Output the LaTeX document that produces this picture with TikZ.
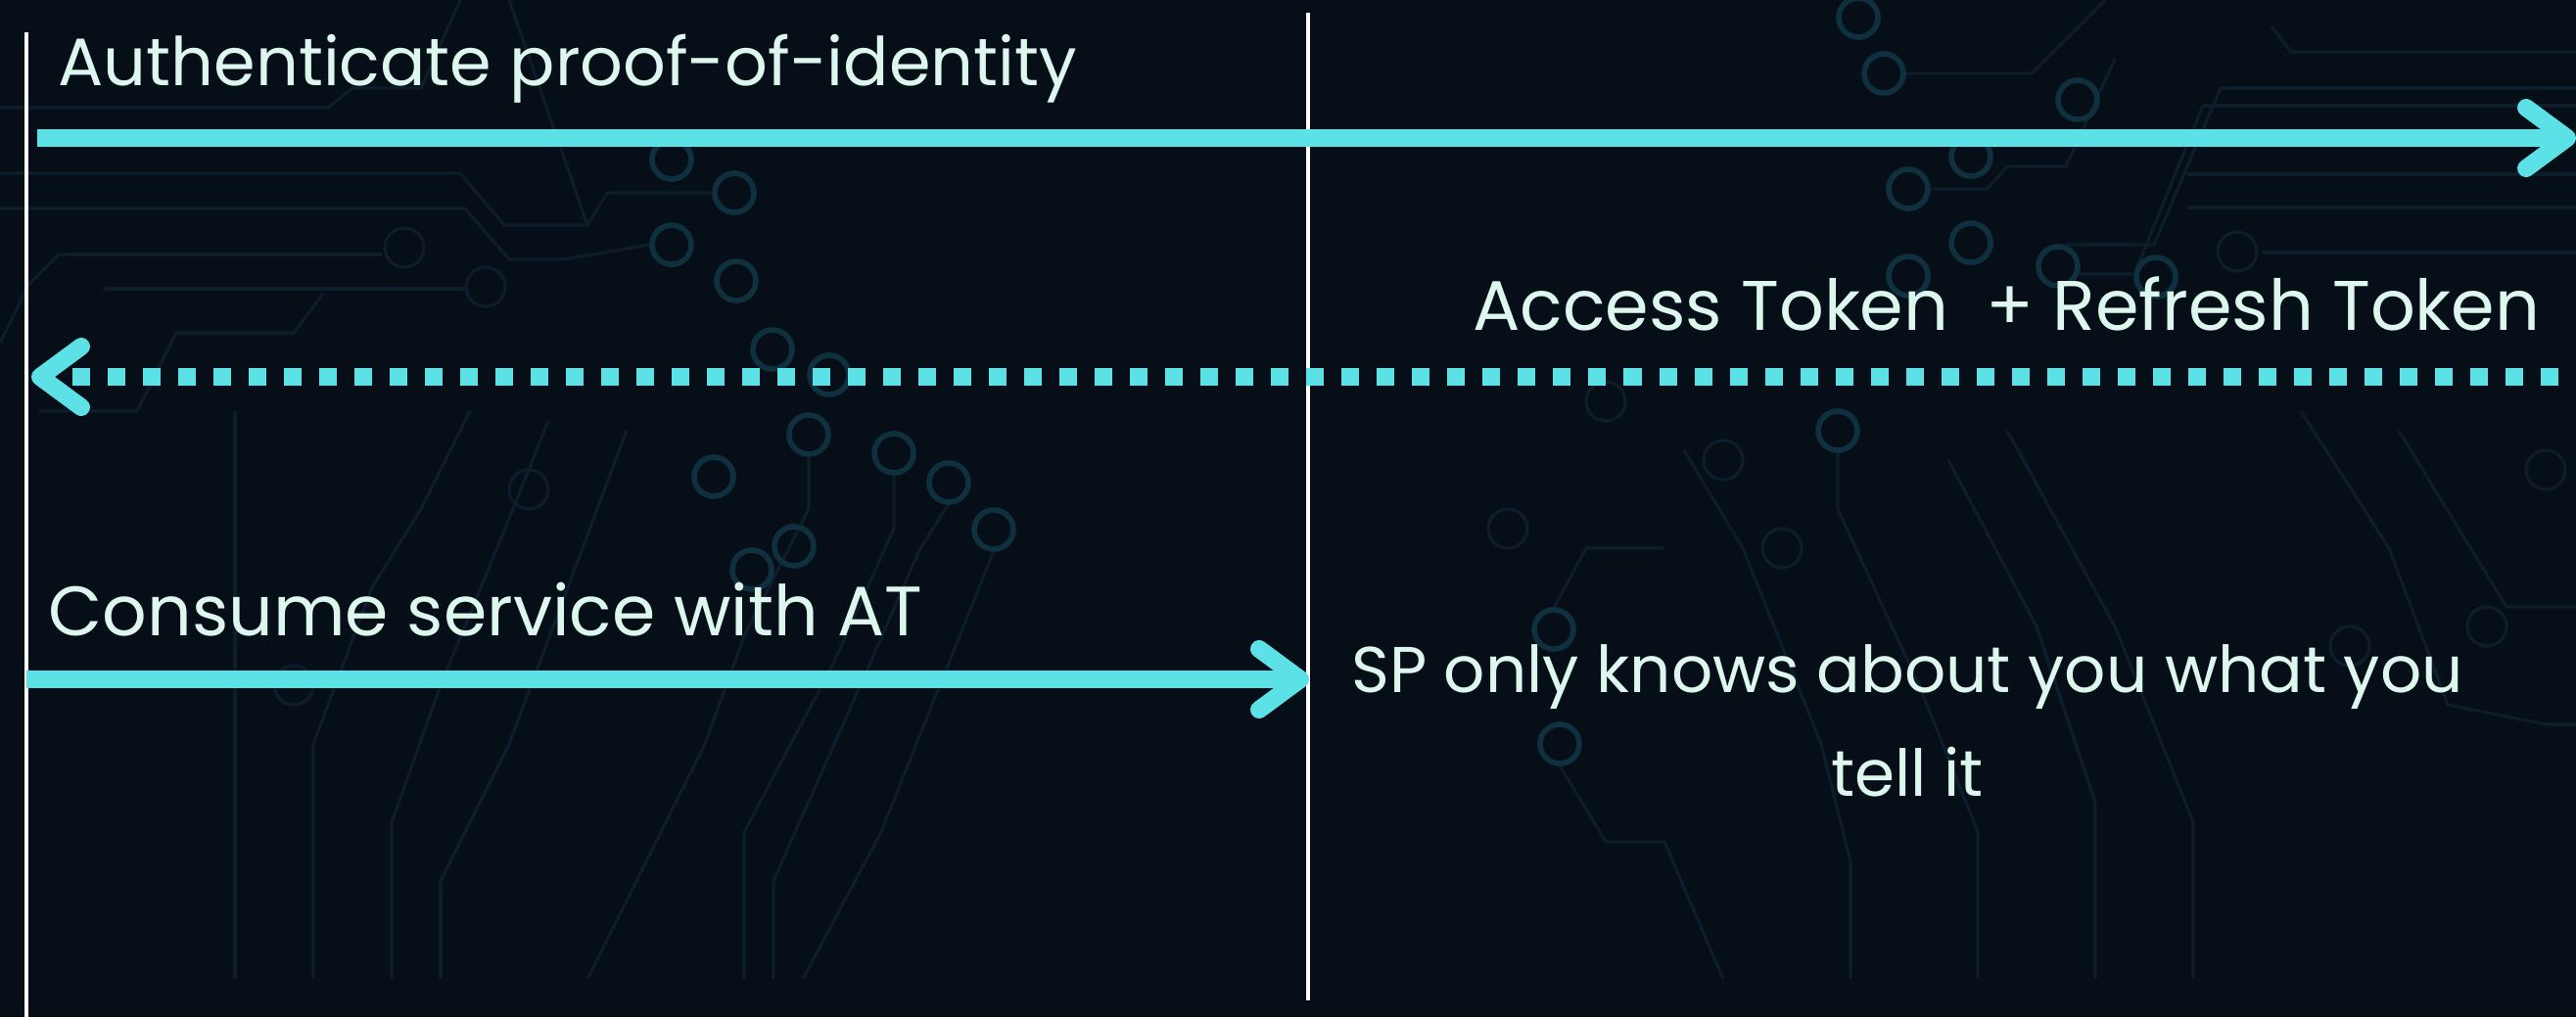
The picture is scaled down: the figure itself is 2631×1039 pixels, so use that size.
\documentclass[tikz,border=0pt]{standalone}
\usepackage{fontspec}
\setmainfont{Poppins}
\usetikzlibrary{arrows.meta, positioning}
\definecolor{bgnavy}{RGB}{6, 15, 24}
\definecolor{msgcyan}{RGB}{92, 225, 230}
\definecolor{labelmint}{RGB}{222, 247, 238}
\definecolor{ringteal}{RGB}{15, 48, 62}
\definecolor{tracedim}{RGB}{13, 29, 43}

\begin{document}
\begin{tikzpicture}[
        x=0.01cm, y=-0.01cm,
        lifeline/.style={draw=white, line width=1.3pt},
        msg/.style={draw=msgcyan, line width=5.1pt,
                    -{Straight Barb[length=4.2mm, width=6.2mm, line cap=round, line join=round]}},
        dottedmsg/.style={msg, dash pattern=on 0.18cm off 0.18cm},
        msglabel/.style={text=labelmint, inner sep=0pt, font=\fontsize{19.5}{30}\selectfont},
        trace/.style={draw=tracedim, line width=0.9pt},
        ring/.style={draw=ringteal, line width=1.6pt}
      ]
        % background
        \fill[bgnavy] (0,0) rectangle (2631,1039);
        \useasboundingbox (0,0) rectangle (2631,1039);

        % faint circuit board
        \draw[trace] (0,110) -- (335,110) -- (360,90) -- (430,90) -- (470,0);
        \draw[trace] (0,177) -- (470,177) -- (515,230) -- (600,230) -- (620,197) -- (728,197);
        \draw[trace] (0,213) -- (475,213) -- (520,265) -- (575,265) -- (664,250);
        \draw[trace] (70,260) -- (390,260);
        \draw[trace] (105,295) -- (474,295);
        \draw[trace] (0,350) -- (30,290) -- (60,260) -- (70,260);
        \draw[trace] (40,420) -- (140,420) -- (180,340) -- (300,340) -- (330,300);
        \draw[trace] (520,0) -- (600,230);
        \draw[trace] (1947,75) -- (2075,75) -- (2150,0);
        \draw[trace] (2320,27) -- (2340,53) -- (2631,53);
        \draw[trace] (2268,90) -- (2631,90);
        \draw[trace] (2268,90) -- (2200,250) -- (2110,250);
        \draw[trace] (2250,108) -- (2631,108);
        \draw[trace] (2250,108) -- (2180,280) -- (2120,280);
        \draw[trace] (2234,178) -- (2631,178);
        \draw[trace] (2234,212) -- (2631,212);
        \draw[trace] (2310,258) -- (2631,258);
        \draw[trace] (1971,193) -- (2030,193) -- (2050,170) -- (2110,170) -- (2160,60);
        \draw[trace] (826,466) -- (826,520) -- (760,650) -- (720,760) -- (600,1000);
        \draw[trace] (913,485) -- (913,540) -- (850,680) -- (760,850) -- (760,1000);
        \draw[trace] (969,515) -- (940,560) -- (870,720) -- (790,900) -- (790,1000);
        \draw[trace] (1015,563) -- (960,700) -- (900,850) -- (820,1000);
        \draw[trace] (480,420) -- (430,520) -- (380,600) -- (320,760) -- (320,1000);
        \draw[trace] (560,430) -- (520,530) -- (450,700) -- (400,840) -- (400,1000);
        \draw[trace] (640,440) -- (580,600) -- (520,760) -- (450,900) -- (450,1000);
        \draw[trace] (240,420) -- (240,1000);
        \draw[trace] (1877,462) -- (1877,520) -- (1960,700) -- (2020,850) -- (2020,1000);
        \draw[trace] (1720,460) -- (1780,560) -- (1860,760) -- (1890,880) -- (1890,1000);
        \draw[trace] (1990,470) -- (2080,640) -- (2140,820) -- (2140,1000);
        \draw[trace] (2050,440) -- (2160,640) -- (2240,840) -- (2240,1000);
        \draw[trace] (1593,782) -- (1640,860) -- (1700,860) -- (1760,1000);
        \draw[trace] (1587,621) -- (1620,560) -- (1700,560);
        \draw[trace] (2350,420) -- (2440,560) -- (2500,720) -- (2600,740) -- (2631,740);
        \draw[trace] (2450,440) -- (2560,620) -- (2631,620);
        \foreach \rx/\ry in {686/163, 750/197, 686/250, 752/287, 789/357, 847/383,
                             826/444, 913/463, 969/493, 1015/541, 729/487, 811/558, 768/582,
                             1898/18, 1924/75, 2122/102, 2013/160, 1949/193, 2013/248,
                             2102/272, 1949/282, 2202/283, 1877/440, 1587/643, 1593/760}
          \draw[ring] (\rx,\ry) circle (20);
        \foreach \rx/\ry in {413/253, 496/293, 2285/257, 540/500, 300/700, 1540/540,
                             2600/480, 2540/640, 2400/660, 1760/470, 1820/560, 1640/410}
          \draw[trace] (\rx,\ry) circle (20);

        % lifelines
        \coordinate (usertop) at (27,33);
        \coordinate (userbot) at (27,1039);
        \coordinate (sptop) at (1336,13);
        \coordinate (spbot) at (1336,1022);
        \draw[lifeline] (usertop) -- (userbot);
        \draw[lifeline] (sptop) -- (spbot);

        % messages
        \coordinate (authstart) at (38,141);
        \coordinate (authend) at (2631,141);
        \coordinate (tokstart) at (2649,385);
        \coordinate (tokend) at (32,385);
        \coordinate (usestart) at (27,694);
        \coordinate (useend) at (1337,694);
        \draw[msg] (authstart) -- (authend);
        \draw[dottedmsg] (tokstart) -- (tokend);
        \draw[msg] (usestart) -- (useend);

        % labels
        \node[msglabel, anchor=base west] (auth) at (59,87) {Authenticate proof-of-identity};
        \node[msglabel, anchor=base east, font=\fontsize{20.4}{30}\selectfont] (tokens) at (2595,337) {Access Token\ \ + Refresh Token};
        \node[msglabel, anchor=base west, font=\fontsize{20.3}{30}\selectfont] (consume) at (49,649) {Consume service with AT};
        \node[msglabel, align=center, anchor=base, font=\fontsize{18.8}{29.9}\selectfont] (spnote) at (1948,813) {SP only knows about you what you\\tell it};
      \end{tikzpicture}
\end{document}
